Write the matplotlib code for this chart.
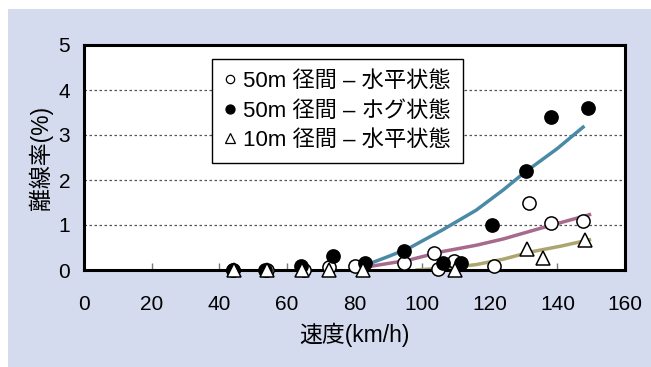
import matplotlib
matplotlib.use("Agg")
import matplotlib.pyplot as plt
from matplotlib.patches import Rectangle
from matplotlib.lines import Line2D

plt.rcParams['font.family'] = ['Liberation Sans', 'Noto Sans CJK JP', 'DejaVu Sans']

# data
open_x = [44, 54, 65, 72.5, 80, 94.5, 103.5, 104.8, 109.5, 121.4, 131.6, 138, 147.6]
open_y = [0, 0, 0, 0.07, 0.1, 0.15, 0.37, 0.02, 0.2, 0.08, 1.48, 1.05, 1.08]

filled_x = [44, 53.6, 64.1, 73.5, 83.2, 94.7, 106.3, 111.6, 120.8, 130.8, 138, 149]
filled_y = [0, 0, 0.09, 0.32, 0.16, 0.43, 0.15, 0.16, 1.0, 2.21, 3.39, 3.6]

tri_x = [44.5, 54, 64.5, 72.5, 82.5, 109.8, 131, 135.8, 148.2]
tri_y = [0, 0, 0, 0, 0, 0, 0.46, 0.26, 0.66]

# trend curves
blue_x = [83, 90, 96, 106, 116, 124, 130, 140, 148]
blue_y = [0.1, 0.3, 0.48, 0.89, 1.33, 1.78, 2.15, 2.7, 3.2]
pink_x = [83, 96, 106, 116, 124, 137, 150]
pink_y = [0.06, 0.22, 0.41, 0.55, 0.69, 0.97, 1.24]
olive_x = [98, 108, 116, 124, 132, 141, 150]
olive_y = [0.0, 0.05, 0.12, 0.24, 0.4, 0.53, 0.68]

labels = ["50m 径間 – 水平状態", "50m 径間 – ホグ状態", "10m 径間 – 水平状態"]
xticks = [0, 20, 40, 60, 80, 100, 120, 140, 160]
yticks = [0, 1, 2, 3, 4, 5]

BG = "#d4dbef"
FS = 15

fig = plt.figure(figsize=(6.51, 3.67), dpi=100)
fig.patch.set_facecolor("white")
fig.add_artist(Rectangle((8 / 651, 0), 1, 1 - 9 / 367, transform=fig.transFigure,
                         facecolor=BG, edgecolor="none", zorder=-10))

ax = fig.add_axes([84 / 651, 97 / 367, 541 / 651, 225 / 367])
ax.set_zorder(1)
ax.set_facecolor("white")
ax.set_xlim(0, 160)
ax.set_ylim(0, 5)

for y in [1, 2, 3, 4]:
    ax.axhline(y, color="#555555", lw=0.9, ls=(0, (2, 2)), zorder=1)

ax.plot(blue_x, blue_y, color="#4a8aa6", lw=2.5, solid_capstyle="butt", zorder=2)
ax.plot(pink_x, pink_y, color="#a86a8c", lw=2.5, solid_capstyle="butt", zorder=2)
ax.plot(olive_x, olive_y, color="#aca56f", lw=2.5, solid_capstyle="butt", zorder=2)

ms = 9.5
ax.plot(open_x, open_y, "o", ms=ms, mfc="white", mec="black", mew=1.1, clip_on=False, zorder=4)
ax.plot(filled_x, filled_y, "o", ms=ms, mfc="black", mec="black", mew=1.1, clip_on=False, zorder=5)
ax.plot(tri_x, tri_y, "^", ms=ms, mfc="white", mec="black", mew=1.1, clip_on=False, zorder=6)

for s in ax.spines.values():
    s.set_linewidth(2.2)
    s.set_color("black")

ax.set_xticks(xticks)
ax.set_yticks(yticks)
ax.tick_params(axis="x", direction="in", length=5, width=1, color="#777777",
               labelsize=FS, pad=18)
ax.tick_params(axis="y", length=0, labelsize=FS, pad=10)

ax.set_xlabel("速度(km/h)", fontsize=16.5, labelpad=6)
ax.set_ylabel("離線率(%)", fontsize=16.5, labelpad=4)

handles = [
    Line2D([], [], ls="none", marker="o", ms=6, mfc="white", mec="black", mew=0.9),
    Line2D([], [], ls="none", marker="o", ms=6.5, mfc="black", mec="black", mew=0.9),
    Line2D([], [], ls="none", marker="^", ms=6.5, mfc="white", mec="black", mew=0.9),
]
leg = ax.legend(handles, labels, loc="upper left", bbox_to_anchor=(0.2366, 0.938),
                fontsize=16, frameon=True, fancybox=False, framealpha=1,
                edgecolor="black", handlelength=0.5, handletextpad=0.35,
                labelspacing=0.38, borderpad=0.55, borderaxespad=0)
leg.get_frame().set_linewidth(1.0)
leg.set_zorder(7)

fig.savefig("out.png", dpi=100, facecolor=fig.get_facecolor())
